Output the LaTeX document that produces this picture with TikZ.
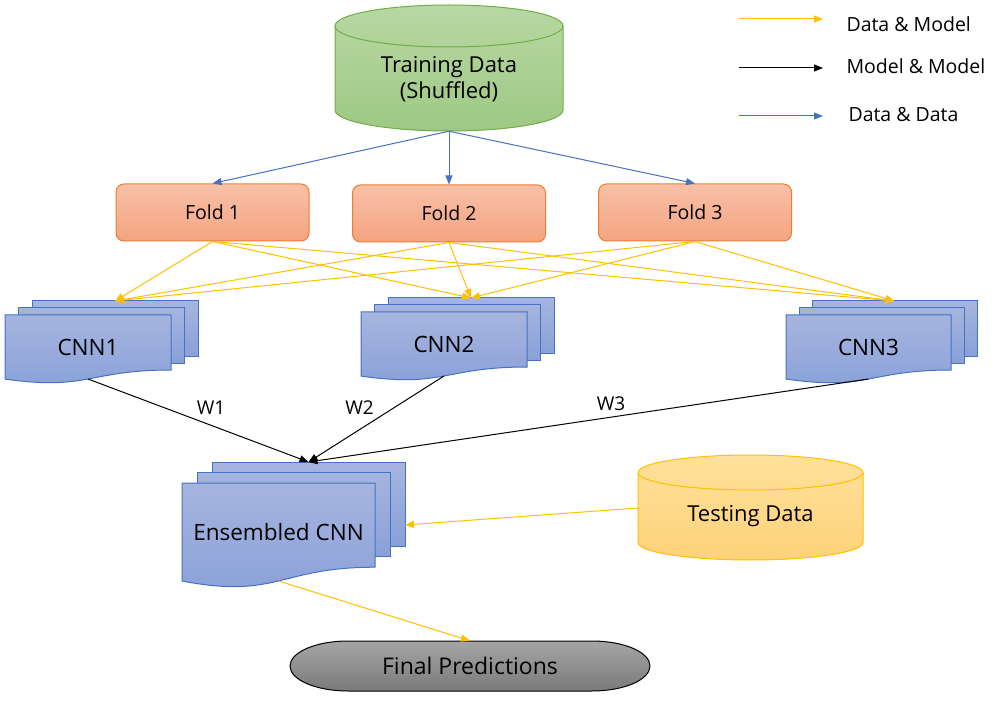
\documentclass[tikz,border=0pt]{standalone}
\usepackage{fontspec}
\setmainfont{Open Sans}
\usetikzlibrary{arrows.meta}

\definecolor{datablue}{HTML}{4472C4}
\definecolor{modelgold}{HTML}{FFC000}
\definecolor{foldline}{HTML}{ED7D31}
\definecolor{trainline}{HTML}{70AD47}

% stacked document shape: name, x, y (front top left), width, height, dx, dy, text
\newcommand{\stackdoc}[8]{%
  \foreach \k in {2,1} {
    \shade[docpage] (#2+\k*#6, #3-\k*#7) rectangle ++(#4, 0.802*#5);
  }
  \shade[docpage] (#2,#3) -- ++(#4,0) -- ++(0,0.802*#5)
    .. controls (#2+0.5*#4, #3+0.802*#5) and (#2+0.5*#4, #3+1.107*#5) .. (#2, #3+0.934*#5) -- cycle;
  \node[doctext] (#1) at (#2+0.5*#4, #3+0.47*#5) {#8};
  \coordinate (#1-top) at (#2+2*#6+0.5*#4, #3-2*#7);
  \coordinate (#1-bot) at (#2+0.5*#4, #3+0.933*#5);
  \coordinate (#1-east) at (#2+#4+2*#6, #3+0.4*#5);
}

\begin{document}
\begin{tikzpicture}[x=1pt, y=-1pt,
    foldbox/.style={rectangle, rounded corners=8pt, draw=foldline, line width=1pt,
      top color={rgb,255:red,248;green,192;blue,168}, bottom color={rgb,255:red,244;green,164;blue,128},
      minimum width=193, minimum height=57, font=\fontsize{19.5}{23}\selectfont},
    docpage/.style={draw=datablue, line width=1pt,
      top color={rgb,255:red,166;green,181;blue,223}, bottom color={rgb,255:red,137;green,160;blue,216}},
    doctext/.style={font=\fontsize{22.5}{27}\selectfont},
    cyltext/.style={align=center, font=\fontsize{22}{26}\selectfont},
    keytext/.style={anchor=west, font=\fontsize{19.5}{23}\selectfont},
    wtext/.style={font=\fontsize{19}{22}\selectfont},
    tip/.style={-{Triangle[length=9pt,width=7pt]}, line width=1pt},
    datadata/.style={tip, draw=datablue, color=datablue},
    datamodel/.style={tip, draw=modelgold, color=modelgold},
    modelmodel/.style={tip, draw=black}]
\useasboundingbox (0,0) rectangle (994,703);

% Draw the legend
\coordinate (keyA1) at (739,19);  \coordinate (keyA2) at (823,19);
\coordinate (keyB1) at (739,68);  \coordinate (keyB2) at (823,68);
\coordinate (keyC1) at (739,116); \coordinate (keyC2) at (823,116);
\draw[datamodel] (keyA1) -- (keyA2);
\draw[modelmodel] (keyB1) -- (keyB2);
\draw[datadata] (keyC1) -- (keyC2);
\node[keytext] (keyA) at (843,24) {Data \& Model};
\node[keytext] (keyB) at (843,66) {Model \& Model};
\node[keytext] (keyC) at (845,115) {Data \& Data};

% Draw the training data cylinder
\shade[draw=trainline, line width=1pt,
  top color={rgb,255:red,184;green,216;blue,163}, bottom color={rgb,255:red,158;green,200;blue,132}]
  (335,26) arc[start angle=180, end angle=360, x radius=114, y radius=21]
  -- (563,110) arc[start angle=0, end angle=180, x radius=114, y radius=21] -- cycle;
\draw[trainline, line width=1pt] (335,26) arc[start angle=180, end angle=0, x radius=114, y radius=21];
\node[cyltext, minimum width=228, minimum height=104] (train) at (449,79) {Training Data\\(Shuffled)};

% Draw the three folds
\node[foldbox] (fold1) at (212.5,212.5) {Fold 1};
\node[foldbox] (fold2) at (449,213.5) {Fold 2};
\node[foldbox] (fold3) at (695,212.5) {Fold 3};

% Draw the CNNs and the ensembled CNN
\stackdoc{cnn1}{5}{315}{166}{68.6}{13.5}{7}{CNN1}
\stackdoc{cnn2}{361}{312}{166}{68.6}{13.5}{7}{CNN2}
\stackdoc{cnn3}{786}{315}{165}{68.6}{13}{7}{CNN3}
\stackdoc{ens}{182}{483}{193}{105}{15}{10.5}{Ensembled CNN}

% Draw the testing data cylinder
\shade[draw=modelgold, line width=1pt,
  top color={rgb,255:red,255;green,225;blue,155}, bottom color={rgb,255:red,254;green,210;blue,122}]
  (638,472.5) arc[start angle=180, end angle=360, x radius=112.5, y radius=17.5]
  -- (863,542.5) arc[start angle=0, end angle=180, x radius=112.5, y radius=17.5] -- cycle;
\draw[modelgold, line width=1pt] (638,472.5) arc[start angle=180, end angle=0, x radius=112.5, y radius=17.5];
\node[doctext, font=\fontsize{22}{26}\selectfont, minimum width=225] (test) at (750.5,516) {Testing Data};

% Draw the final predictions terminal
\shade[draw=black, line width=1pt,
  top color={rgb,255:red,165;green,165;blue,165}, bottom color={rgb,255:red,122;green,122;blue,122}]
  (348,641) -- (592,641) arc[start angle=270, end angle=450, x radius=58, y radius=25]
  -- (348,691) arc[start angle=90, end angle=270, x radius=58, y radius=25] -- cycle;
\node[font=\fontsize{23}{27}\selectfont, minimum width=361, minimum height=50] (final) at (470,666) {Final Predictions};

% Split the training data into folds
\foreach \f in {1,2,3}
  \draw[datadata] (train.south) -- (fold\f.north);

% Every fold feeds every CNN
\foreach \f in {1,2,3}
  \foreach \c in {1,2,3}
    \draw[datamodel] (fold\f.south) -- (cnn\c-top);

% Weights into the ensemble
\foreach \c in {1,2,3}
  \draw[modelmodel] (cnn\c-bot) -- (ens-top);
\node[wtext] (w1) at (211,407.5) {W1};
\node[wtext] (w2) at (359.5,407.5) {W2};
\node[wtext] (w3) at (611,404) {W3};

% Testing data and the final output
\draw[datamodel] ([yshift=8pt]test.west) -- (ens-east);
\draw[datamodel] (ens-bot) -- (final.north);

\end{tikzpicture}
\end{document}
